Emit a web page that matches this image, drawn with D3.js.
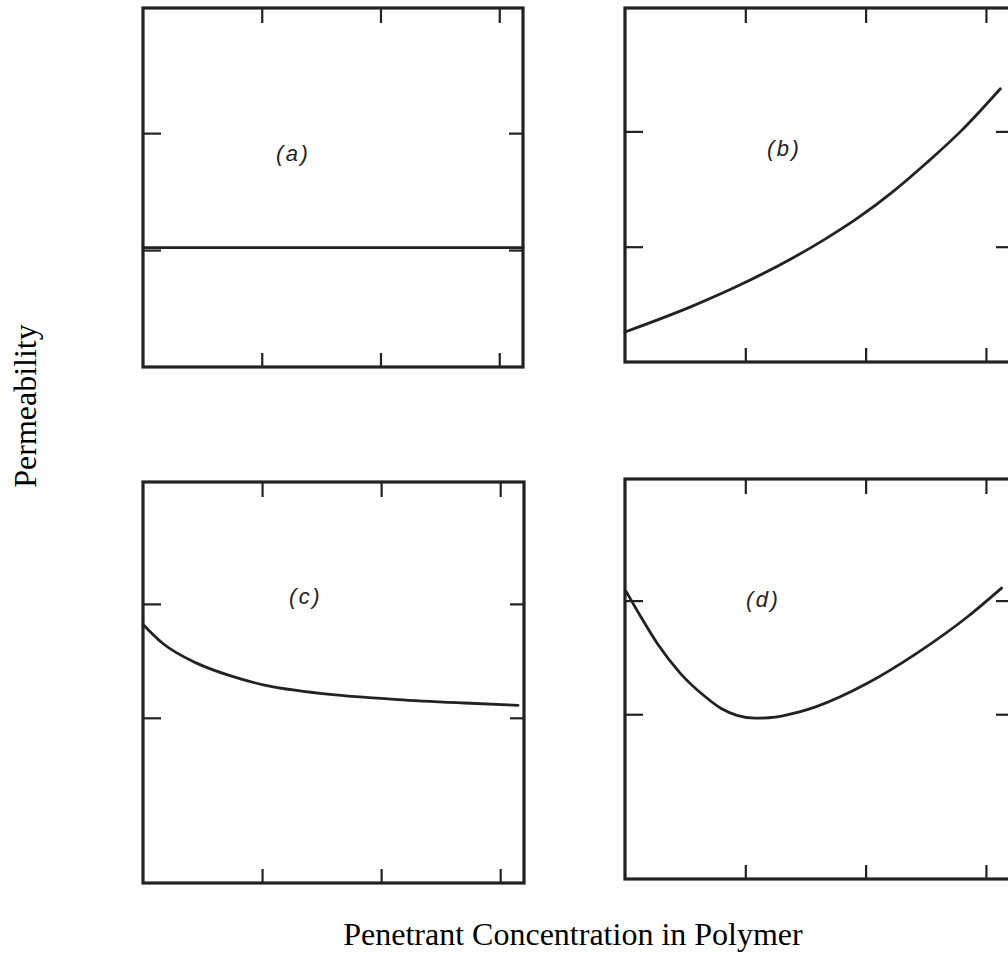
<!DOCTYPE html>
<html>
<head>
<meta charset="utf-8">
<script src="https://cdn.jsdelivr.net/npm/d3@7"></script>
<style>
  html, body { margin: 0; padding: 0; background: #fff; }
  svg { display: block; }
</style>
</head>
<body>
<div id="chart"></div>
<script>
// values (x: concentration, y: permeability, arbitrary units)
const xTicks = [1, 2, 3];
const yTicks = [1, 2];
const panelNames = ["(a)", "(b)", "(c)", "(d)"];

// (a) constant permeability
const concA = [0, 3.2];
const permA = [1.02, 1.02];

// (b) increasing, concave up
const concB = [0, 0.55, 0.98, 1.39, 1.67, 1.95, 2.23, 2.51, 2.79, 3.12];
const permB = [0.26, 0.48, 0.68, 0.9, 1.07, 1.26, 1.48, 1.73, 2.0, 2.37];

// (c) decreasing, levelling off
const concC = [0, 0.17, 0.45, 0.73, 1.01, 1.29, 1.57, 2.14, 2.7, 3.15];
const permC = [1.82, 1.65, 1.48, 1.37, 1.29, 1.24, 1.205, 1.16, 1.13, 1.11];

// (d) minimum then rising
const concD = [0.01, 0.13, 0.27, 0.46, 0.66, 0.8, 0.93, 1.08, 1.25, 1.45, 1.59, 2.01, 2.43, 2.85, 3.13];
const permD = [2.08, 1.86, 1.62, 1.36, 1.16, 1.05, 0.99, 0.965, 0.975, 1.02, 1.067, 1.27, 1.54, 1.86, 2.11];

const width = 1008;
const height = 955;
const ink = "#222";

const svg = d3.select("#chart")
  .append("svg")
  .attr("width", width)
  .attr("height", height);

// panel boxes as placed on the scanned page
const panels = [
  { left: 143, top: 8,   w: 380, h: 359, yDom: [0, 3.07],     xs: concA, ys: permA, lx: 276, ly: 161 },
  { left: 625, top: 8,   w: 385, h: 354, yDom: [0, 3.07],     xs: concB, ys: permB, lx: 767, ly: 156 },
  { left: 143, top: 482, w: 381, h: 401, yDom: [-0.45, 3.07], xs: concC, ys: permC, lx: 289, ly: 604 },
  { left: 625, top: 479, w: 385, h: 400, yDom: [-0.45, 3.07], xs: concD, ys: permD, lx: 746, ly: 607 }
];

panels.forEach((p, i) => {
  const g = svg.append("g").attr("transform", `translate(${p.left},${p.top})`);

  const x = d3.scaleLinear().domain([0, 3.2]).range([0, p.w]);
  const y = d3.scaleLinear().domain(p.yDom).range([p.h, 0]);

  // inward ticks on all four sides, no labels
  const tickStyle = sel => {
    sel.select(".domain").remove();
    sel.selectAll(".tick line").attr("stroke", ink).attr("stroke-width", 2.2);
  };
  g.append("g").attr("transform", `translate(0,${p.h})`)
    .call(d3.axisBottom(x).tickValues(xTicks).tickSize(-14).tickFormat(""))
    .call(tickStyle);
  g.append("g")
    .call(d3.axisTop(x).tickValues(xTicks).tickSize(-15).tickFormat(""))
    .call(tickStyle);
  g.append("g")
    .call(d3.axisLeft(y).tickValues(yTicks).tickSize(-18).tickFormat(""))
    .call(tickStyle);
  g.append("g").attr("transform", `translate(${p.w},0)`)
    .call(d3.axisRight(y).tickValues(yTicks).tickSize(-14).tickFormat(""))
    .call(tickStyle);

  // frame
  g.append("rect")
    .attr("width", p.w)
    .attr("height", p.h)
    .attr("fill", "none")
    .attr("stroke", ink)
    .attr("stroke-width", 3.2);

  // curve
  const line = d3.line()
    .x(d => x(d[0]))
    .y(d => y(d[1]))
    .curve(d3.curveMonotoneX);
  g.append("path")
    .datum(d3.zip(p.xs, p.ys))
    .attr("d", line)
    .attr("fill", "none")
    .attr("stroke", ink)
    .attr("stroke-width", 2.8)
    .attr("stroke-linecap", "round");

  svg.append("text")
    .attr("x", p.lx)
    .attr("y", p.ly)
    .attr("font-family", "Liberation Sans, Arial, sans-serif")
    .attr("font-style", "italic")
    .attr("font-size", 22)
    .attr("letter-spacing", 2.5)
    .attr("fill", ink)
    .text(panelNames[i]);
});

// axis titles
svg.append("text")
  .attr("transform", "translate(36,406) rotate(-90)")
  .attr("text-anchor", "middle")
  .attr("font-family", "Liberation Serif, Times New Roman, serif")
  .attr("font-size", 32)
  .attr("fill", "#000")
  .text("Permeability");

svg.append("text")
  .attr("x", 573)
  .attr("y", 945)
  .attr("text-anchor", "middle")
  .attr("font-family", "Liberation Serif, Times New Roman, serif")
  .attr("font-size", 32)
  .attr("fill", "#000")
  .text("Penetrant Concentration in Polymer");
</script>
</body>
</html>
